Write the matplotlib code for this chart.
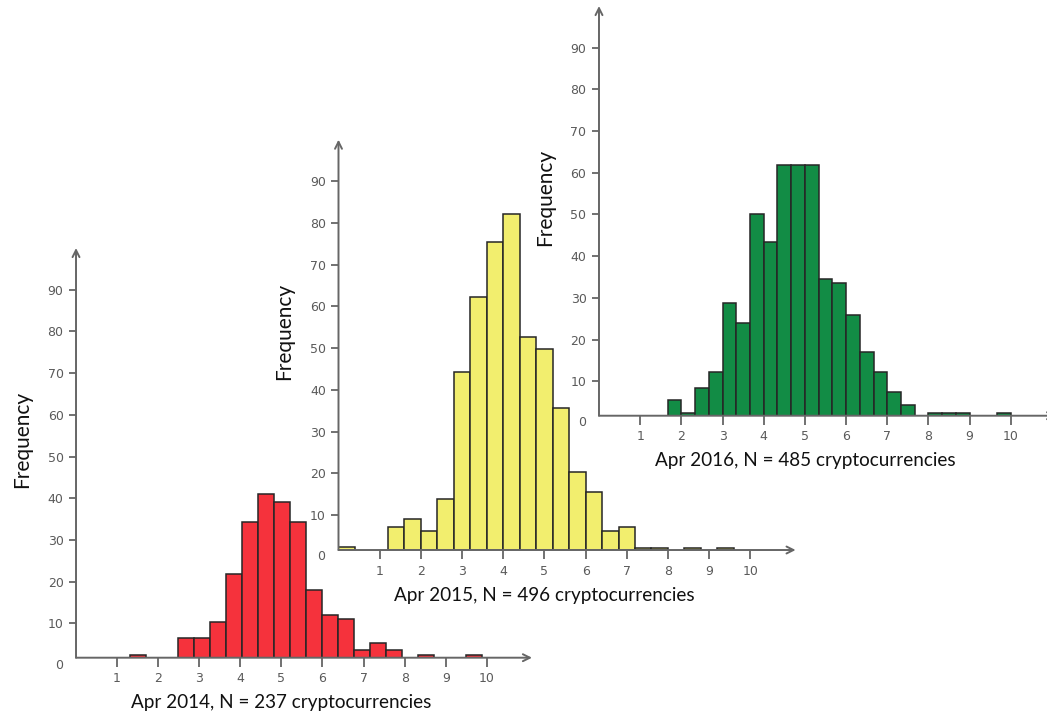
import matplotlib.pyplot as plt

red_left = [1.31, 2.48, 2.87, 3.26, 3.65, 4.04, 4.43, 4.82, 5.21, 5.60, 5.99,
            6.38, 6.77, 7.16, 7.55, 8.33, 9.50]
red_freq = [2.4, 6.4, 6.4, 10.3, 21.8, 34.3, 41.0, 39.2, 34.3, 17.9, 12.1,
            11.1, 3.6, 5.4, 3.6, 2.4, 2.4]

yel_left = [0.0, 1.2, 1.6, 2.0, 2.4, 2.8, 3.2, 3.6, 4.0, 4.4, 4.8, 5.2, 5.6,
            6.0, 6.4, 6.8, 7.2, 7.6, 8.4, 9.2]
yel_freq = [2.4, 7.0, 9.0, 6.2, 13.8, 44.2, 62.2, 75.5, 82.2, 52.7, 49.8, 35.6,
            20.4, 15.6, 6.2, 7.0, 2.2, 2.2, 2.2, 2.2]

grn_left = [1.667, 2.0, 2.333, 2.667, 3.0, 3.333, 3.667, 4.0, 4.333, 4.667,
            5.0, 5.333, 5.667, 6.0, 6.333, 6.667, 7.0, 7.333, 8.0, 8.333,
            8.667, 9.667]
grn_freq = [5.5, 2.4, 8.4, 12.2, 28.8, 23.9, 50.2, 43.3, 61.8, 61.8, 61.8,
            34.5, 33.6, 25.8, 17.0, 12.2, 7.3, 4.4, 2.4, 2.4, 2.4, 2.4]

titles = ["Apr 2014, N = 237 cryptocurrencies",
          "Apr 2015, N = 496 cryptocurrencies",
          "Apr 2016, N = 485 cryptocurrencies"]
x_ticks = list(range(1, 11))
y_ticks = list(range(10, 100, 10))

XMAX = 11.1
YMAX = 100
AXC = "#666666"
TXT = "#5a5a5a"

fig = plt.figure(figsize=(10.47, 7.17), dpi=100)


def panel(rect, left, freq, width, base, color, title):
    ax = fig.add_axes(rect)
    ax.patch.set_alpha(0)
    ax.bar(left, [f - base for f in freq], width=width, bottom=base,
           align="edge", color=color, edgecolor="#262626", linewidth=1.1,
           zorder=2)
    ax.set_xlim(0, XMAX)
    ax.set_ylim(base, YMAX)
    for s in ax.spines.values():
        s.set_visible(False)
    arr = dict(arrowstyle="->,head_length=0.5,head_width=0.25", color=AXC,
               lw=1.4, shrinkA=0, shrinkB=0)
    ax.annotate("", xy=(1, 0), xytext=(0, 0), xycoords="axes fraction",
                arrowprops=arr, annotation_clip=False)
    ax.annotate("", xy=(0, 1), xytext=(0, 0), xycoords="axes fraction",
                arrowprops=arr, annotation_clip=False)
    ax.set_xticks(x_ticks)
    ax.set_yticks(y_ticks)
    ax.tick_params(axis="x", length=6.5, width=1.3, color=AXC, pad=4,
                   labelsize=9, labelcolor=TXT)
    ax.tick_params(axis="y", length=5, width=1.3, color=AXC, pad=4,
                   labelsize=9, labelcolor=TXT)
    ax.annotate("0", xy=(0, 0), xycoords=("axes fraction", "data"),
                xytext=(-9.5, 0), textcoords="offset points", ha="right",
                va="center", fontsize=9, color=TXT, annotation_clip=False)
    ax.text(-1.32, 54, "Frequency", rotation=90, ha="center", va="center",
            fontsize=15, family="Lato", color="#111111")
    ax.annotate(title, xy=(5, base), xycoords="data", xytext=(0, -32.5),
                textcoords="offset points", ha="center", va="center",
                fontsize=13.6, family="Lato", color="#111111",
                annotation_clip=False)
    return ax


panel([0.0726, 0.0827, 0.4355, 0.5714], red_left, red_freq, 0.39, 1.76,
      "#f5323c", titles[0])
panel([0.3233, 0.2329, 0.4366, 0.5723], yel_left, yel_freq, 0.4, 1.6,
      "#f2ee6e", titles[1])
panel([0.5721, 0.4202, 0.4366, 0.5714], grn_left, grn_freq, 1 / 3, 1.72,
      "#128c45", titles[2])

fig.savefig("out.png", dpi=100)
